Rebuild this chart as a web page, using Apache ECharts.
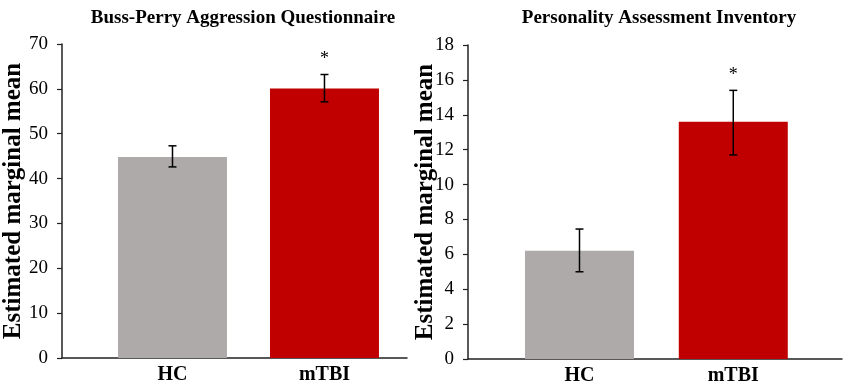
<!DOCTYPE html>
<html>
<head>
<meta charset="utf-8">
<script src="https://cdn.jsdelivr.net/npm/echarts@6/dist/echarts.min.js"></script>
<style>html,body{margin:0;padding:0;background:#fff}#c{width:850px;height:389px}</style>
</head>
<body>
<div id="c"></div>
<script>
// ---- data ----
const categories = ['HC', 'mTBI'];
const titles = ['Buss-Perry Aggression Questionnaire', 'Personality Assessment Inventory'];
const bpaqMeans = [44.8, 60.1];
const bpaqLow = [42.6, 57.1];
const bpaqHigh = [47.3, 63.2];
const paiMeans = [6.2, 13.6];
const paiLow = [5.0, 11.7];
const paiHigh = [7.45, 15.4];
const significant = [false, true];
const bpaqTicks = [0, 10, 20, 30, 40, 50, 60, 70];
const paiTicks = [0, 2, 4, 6, 8, 10, 12, 14, 16, 18];

const barColors = ['#AEAAAA', '#C00000'];
const serif = '"Liberation Serif", "Times New Roman", serif';

function barData(means) {
  return means.map((v, i) => ({ value: [i + 1, v], itemStyle: { color: barColors[i] } }));
}
function errData(low, high) {
  return low.map((l, i) => [i + 1, l, high[i], significant[i] ? 1 : 0]);
}
function errRender(params, api) {
  const x = api.value(0);
  const lo = api.coord([x, api.value(1)]);
  const hi = api.coord([x, api.value(2)]);
  const cap = 4;
  const st = { stroke: '#000', lineWidth: 1.5 };
  const children = [
    { type: 'line', shape: { x1: lo[0], y1: lo[1], x2: hi[0], y2: hi[1] }, style: st },
    { type: 'line', shape: { x1: hi[0] - cap, y1: hi[1], x2: hi[0] + cap, y2: hi[1] }, style: st },
    { type: 'line', shape: { x1: lo[0] - cap, y1: lo[1], x2: lo[0] + cap, y2: lo[1] }, style: st }
  ];
  if (api.value(3) === 1) {
    children.push({ type: 'text', x: hi[0], y: hi[1] - 15,
      style: { text: '*', font: '18px ' + serif, fill: '#000', align: 'center', verticalAlign: 'middle' } });
  }
  return { type: 'group', children: children };
}

const chart = echarts.init(document.getElementById('c'));

function xAxisCfg(gridIndex, min, max) {
  return {
    type: 'value', gridIndex, min, max,
    splitLine: { show: false },
    axisLine: { show: true, lineStyle: { color: '#222', width: 1.5 } },
    axisTick: { show: false },
    axisLabel: {
      customValues: [1, 2],
      formatter: v => categories[Math.round(v) - 1] || '',
      fontFamily: serif, fontWeight: 'bold', fontSize: 20, color: '#000', margin: 7
    }
  };
}
function yAxisCfg(gridIndex, ticks, nameGap) {
  return {
    type: 'value', gridIndex,
    min: ticks[0], max: ticks[ticks.length - 1], interval: ticks[1] - ticks[0],
    name: 'Estimated marginal mean', nameLocation: 'middle', nameGap: nameGap,
    nameMoveOverlap: false,
    nameTextStyle: { fontFamily: serif, fontWeight: 'bold', fontSize: 25, color: '#000' },
    splitLine: { show: false },
    axisLine: { show: true, lineStyle: { color: '#222', width: 1.5 } },
    axisTick: { show: true, length: 5, lineStyle: { color: '#222', width: 1.2 } },
    axisLabel: { fontFamily: serif, fontSize: 19, color: '#000', margin: 14 }
  };
}

chart.setOption({
  animation: false,
  title: [
    { text: titles[0], left: 238, top: 4, textAlign: 'center',
      textStyle: { fontFamily: serif, fontWeight: 'bold', fontSize: 19, color: '#000' } },
    { text: titles[1], left: 654, top: 4, textAlign: 'center',
      textStyle: { fontFamily: serif, fontWeight: 'bold', fontSize: 19, color: '#000' } }
  ],
  grid: [
    { left: 62, right: 443, top: 44, bottom: 31, outerBoundsMode: 'none', containLabel: false },
    { left: 468, right: 8, top: 45, bottom: 30, outerBoundsMode: 'none', containLabel: false }
  ],
  xAxis: [xAxisCfg(0, 0.273, 2.543), xAxisCfg(1, 0.275, 2.707)],
  yAxis: [yAxisCfg(0, bpaqTicks, 36), yAxisCfg(1, paiTicks, 30)],
  series: [
    { type: 'bar', xAxisIndex: 0, yAxisIndex: 0, barWidth: 109, data: barData(bpaqMeans) },
    { type: 'custom', xAxisIndex: 0, yAxisIndex: 0, renderItem: errRender, data: errData(bpaqLow, bpaqHigh), z: 5 },
    { type: 'bar', xAxisIndex: 1, yAxisIndex: 1, barWidth: 109, data: barData(paiMeans) },
    { type: 'custom', xAxisIndex: 1, yAxisIndex: 1, renderItem: errRender, data: errData(paiLow, paiHigh), z: 5 }
  ]
});
</script>
</body>
</html>
